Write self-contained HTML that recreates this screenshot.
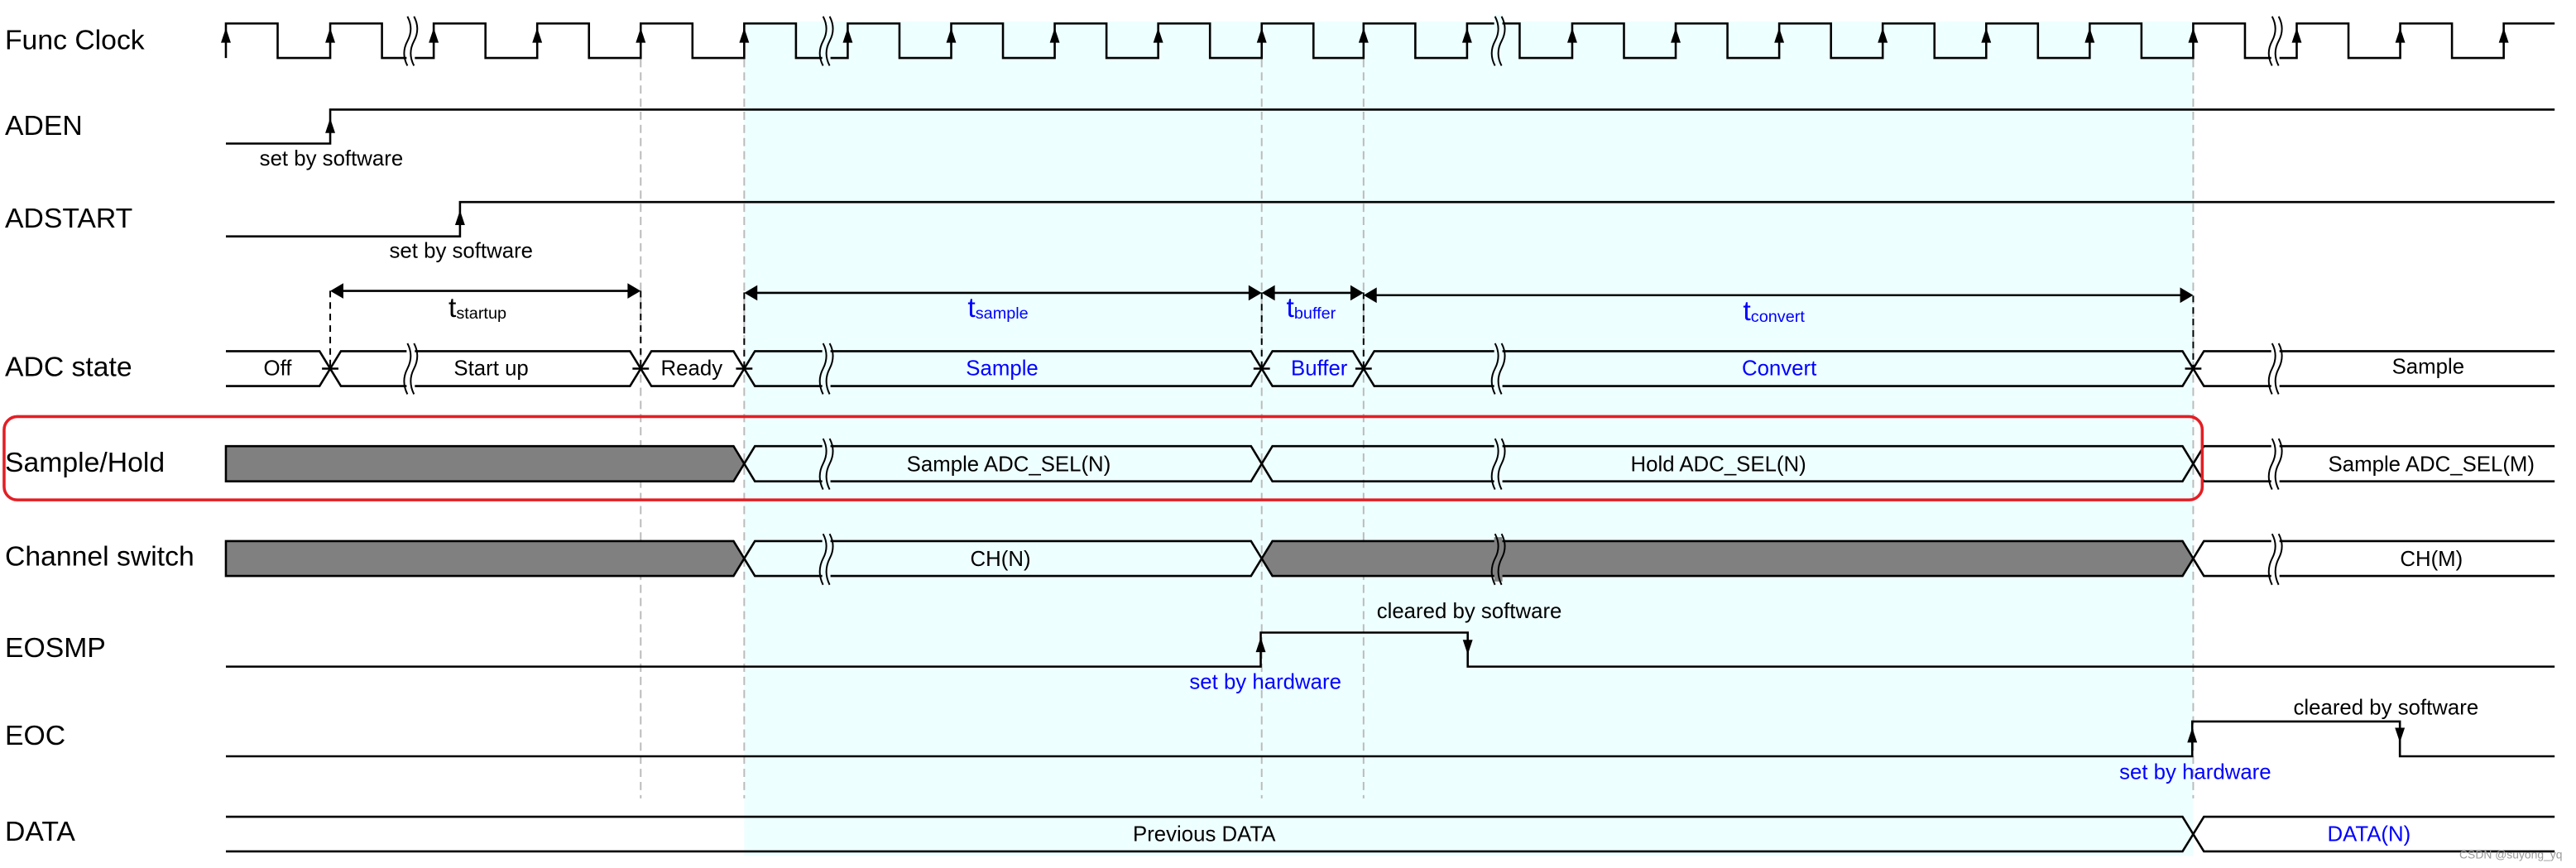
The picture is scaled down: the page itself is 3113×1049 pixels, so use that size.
<!DOCTYPE html>
<html><head><meta charset="utf-8"><style>
html,body{margin:0;padding:0;background:#fff;}
svg{display:block;}
text{font-family:"Liberation Sans",Arial,sans-serif;}
</style></head><body>
<svg width="3113" height="1049" viewBox="0 0 1568 528.4" preserveAspectRatio="none" xmlns="http://www.w3.org/2000/svg">
<rect x="453" y="13" width="882" height="508" fill="#eeffff"/>
<g stroke="#bbb" stroke-width="1" stroke-dasharray="5,3">
<line x1="390" y1="36" x2="390" y2="486"/><line x1="453" y1="36" x2="453" y2="486"/>
<line x1="768" y1="36" x2="768" y2="486"/><line x1="830" y1="36" x2="830" y2="486"/>
<line x1="1335" y1="36" x2="1335" y2="486"/>
</g>
<g fill="none" stroke="#000" stroke-width="1.3">
<path d="M137.5,35.3 V14.3 H169 V35.3 H201 V14.3 H232.5 V35.3 H264 V14.3 H295.5 V35.3 H327 V14.3 H358.5 V35.3 H390 V14.3 H421.5 V35.3 H453 V14.3 H484.5 V35.3 H516 V14.3 H547.5 V35.3 H579 V14.3 H610.5 V35.3 H642 V14.3 H673.5 V35.3 H705 V14.3 H736.5 V35.3 H768 V14.3 H799.5 V35.3 H830 V14.3 H861.5 V35.3 H893 V14.3 H925 V35.3 H957 V14.3 H988.5 V35.3 H1020 V14.3 H1051.5 V35.3 H1083 V14.3 H1114.5 V35.3 H1146 V14.3 H1177.5 V35.3 H1209 V14.3 H1240.5 V35.3 H1272 V14.3 H1303.5 V35.3 H1335 V14.3 H1366.5 V35.3 H1398 V14.3 H1429.5 V35.3 H1461 V14.3 H1492.5 V35.3 H1524 V14.3 H1555"/>
<path d="M137.5,87.4 H201 V66.7 H1555"/>
<path d="M137.5,143.9 H280 V123 H1555"/>
<path d="M137.5,405.8 H767.4 V385.1 H893.4 V405.8 H1555"/>
<path d="M137.5,460.4 H1334.4 V439.2 H1460.8 V460.4 H1555"/>
</g>
<g fill="#000">
<path d="M134.5,26 L137.5,17 L140.5,26Z M198,26 L201,17 L204,26Z M261,26 L264,17 L267,26Z M324,26 L327,17 L330,26Z M387,26 L390,17 L393,26Z M450,26 L453,17 L456,26Z M513,26 L516,17 L519,26Z M576,26 L579,17 L582,26Z M639,26 L642,17 L645,26Z M702,26 L705,17 L708,26Z M765,26 L768,17 L771,26Z M827,26 L830,17 L833,26Z M890,26 L893,17 L896,26Z M954,26 L957,17 L960,26Z M1017,26 L1020,17 L1023,26Z M1080,26 L1083,17 L1086,26Z M1143,26 L1146,17 L1149,26Z M1206,26 L1209,17 L1212,26Z M1269,26 L1272,17 L1275,26Z M1332,26 L1335,17 L1338,26Z M1395,26 L1398,17 L1401,26Z M1458,26 L1461,17 L1464,26Z M1521,26 L1524,17 L1527,26Z"/>
<path d="M198,81 L201,72 L204,81Z M277,137 L280,128 L283,137Z M764.4,397 L767.4,388 L770.4,397Z M890.4,389.5 L893.4,398.5 L896.4,389.5Z M1331.4,452 L1334.4,443 L1337.4,452Z M1457.8,443 L1460.8,452 L1463.8,443Z"/>
</g>
<g stroke="#000" stroke-width="1.3" fill="none">
<line x1="203" y1="177.1" x2="388" y2="177.1"/>
<line x1="455" y1="178.3" x2="766" y2="178.3"/>
<line x1="770" y1="178.3" x2="828" y2="178.3"/>
<line x1="832" y1="179.7" x2="1333" y2="179.7"/>
</g>
<g fill="#000">
<path d="M201,177.1 L209,172.4 L209,181.8Z M390,177.1 L382,172.4 L382,181.8Z"/>
<path d="M453,178.3 L461,173.6 L461,183Z M768,178.3 L760,173.6 L760,183Z M768,178.3 L776,173.6 L776,183Z M830,178.3 L822,173.6 L822,183Z M830,179.7 L838,175 L838,184.4Z M1335,179.7 L1327,175 L1327,184.4Z"/>
</g>
<g stroke="#000" stroke-width="1" stroke-dasharray="4,3">
<line x1="201" y1="177" x2="201" y2="224"/><line x1="390" y1="177" x2="390" y2="224"/>
<line x1="453" y1="178" x2="453" y2="224"/><line x1="768" y1="178" x2="768" y2="224"/>
<line x1="830" y1="178" x2="830" y2="224"/><line x1="1335" y1="180" x2="1335" y2="224"/>
</g>
<g stroke="#000" stroke-width="1.3">
<path fill="none" d="M137.5,213.8 H194.5 L201,224.4 L194.5,235 H137.5"/>
<path fill="none" d="M201,224.4 L207.5,213.8 H383.5 L390,224.4 L383.5,235 H207.5 Z"/>
<path fill="none" d="M390,224.4 L396.5,213.8 H446.5 L453,224.4 L446.5,235 H396.5 Z"/>
<path fill="none" d="M453,224.4 L459.5,213.8 H761.5 L768,224.4 L761.5,235 H459.5 Z"/>
<path fill="none" d="M768,224.4 L774.5,213.8 H823.5 L830,224.4 L823.5,235 H774.5 Z"/>
<path fill="none" d="M830,224.4 L836.5,213.8 H1328.5 L1335,224.4 L1328.5,235 H836.5 Z"/>
<path fill="none" d="M1555,213.8 H1341.5 L1335,224.4 L1341.5,235 H1555"/>
<path d="M196,224.4 H206 M385,224.4 H395 M448,224.4 H458 M763,224.4 H773 M825,224.4 H835 M1330,224.4 H1340" fill="none"/>

<path fill="#808080" d="M137.5,271.6 H446.5 L453,282.3 L446.5,293 H137.5 Z"/>
<path fill="none" d="M453,282.3 L459.5,271.6 H761.5 L768,282.3 L761.5,293 H459.5 Z"/>
<path fill="none" d="M768,282.3 L774.5,271.6 H1328.5 L1335,282.3 L1328.5,293 H774.5 Z"/>
<path fill="none" d="M1555,271.6 H1341.5 L1335,282.3 L1341.5,293 H1555"/>

<path fill="#808080" d="M137.5,329.4 H446.5 L453,340 L446.5,350.6 H137.5 Z"/>
<path fill="none" d="M453,340 L459.5,329.4 H761.5 L768,340 L761.5,350.6 H459.5 Z"/>
<path fill="#808080" d="M768,340 L774.5,329.4 H1328.5 L1335,340 L1328.5,350.6 H774.5 Z"/>
<path fill="none" d="M1555,329.4 H1341.5 L1335,340 L1341.5,350.6 H1555"/>

<path fill="none" d="M137.5,497.2 H1328.5 L1335,507.8 L1328.5,518.3 H137.5"/>
<path fill="none" d="M1555,497.2 H1341.5 L1335,507.8 L1341.5,518.3 H1555"/>
</g>
<g>
<rect x="247.5" y="30" width="5" height="10" fill="#fff"/>
<rect x="500.5" y="30" width="5" height="10" fill="#eeffff"/>
<rect x="909.5" y="9" width="5" height="10" fill="#eeffff"/>
<rect x="1382.5" y="30" width="5" height="10" fill="#fff"/>
<rect x="247.5" y="211" width="5" height="27" fill="#fff"/>
<rect x="500.5" y="211" width="5" height="27" fill="#eeffff"/>
<rect x="909.5" y="211" width="5" height="27" fill="#eeffff"/>
<rect x="1382.5" y="211" width="5" height="27" fill="#fff"/>
<rect x="500.5" y="269" width="5" height="27" fill="#eeffff"/>
<rect x="909.5" y="269" width="5" height="27" fill="#eeffff"/>
<rect x="1382.5" y="269" width="5" height="27" fill="#fff"/>
<rect x="500.5" y="327" width="5" height="27" fill="#eeffff"/>
<rect x="909.5" y="327" width="5" height="27" fill="#808080"/>
<rect x="1382.5" y="327" width="5" height="27" fill="#fff"/>
</g>
<g fill="none" stroke="#000" stroke-width="1">
<path d="M248,10 Q252,17.5 248,25 Q244,32.5 248,40 M252,10 Q256,17.5 252,25 Q248,32.5 252,40"/>
<path d="M501,10 Q505,17.5 501,25 Q497,32.5 501,40 M505,10 Q509,17.5 505,25 Q501,32.5 505,40"/>
<path d="M910,10 Q914,17.5 910,25 Q906,32.5 910,40 M914,10 Q918,17.5 914,25 Q910,32.5 914,40"/>
<path d="M1383,10 Q1387,17.5 1383,25 Q1379,32.5 1383,40 M1387,10 Q1391,17.5 1387,25 Q1383,32.5 1387,40"/>
<path d="M248,209 Q252,216.5 248,224.4 Q244,232 248,240 M252,209 Q256,216.5 252,224.4 Q248,232 252,240"/>
<path d="M501,209 Q505,216.5 501,224.4 Q497,232 501,240 M505,209 Q509,216.5 505,224.4 Q501,232 505,240"/>
<path d="M910,209 Q914,216.5 910,224.4 Q906,232 910,240 M914,209 Q918,216.5 914,224.4 Q910,232 914,240"/>
<path d="M1383,209 Q1387,216.5 1383,224.4 Q1379,232 1383,240 M1387,209 Q1391,216.5 1387,224.4 Q1383,232 1387,240"/>
<path d="M501,267 Q505,274.5 501,282.3 Q497,290 501,298 M505,267 Q509,274.5 505,282.3 Q501,290 505,298"/>
<path d="M910,267 Q914,274.5 910,282.3 Q906,290 910,298 M914,267 Q918,274.5 914,282.3 Q910,290 914,298"/>
<path d="M1383,267 Q1387,274.5 1383,282.3 Q1379,290 1383,298 M1387,267 Q1391,274.5 1387,282.3 Q1383,290 1387,298"/>
<path d="M501,325 Q505,332.5 501,340 Q497,348 501,356 M505,325 Q509,332.5 505,340 Q501,348 505,356"/>
<path d="M910,325 Q914,332.5 910,340 Q906,348 910,356 M914,325 Q918,332.5 914,340 Q910,348 914,356"/>
<path d="M1383,325 Q1387,332.5 1383,340 Q1379,348 1383,356 M1387,325 Q1391,332.5 1387,340 Q1383,348 1387,356"/>
</g>
<rect x="2.5" y="253.6" width="1338" height="50.7" rx="8" fill="none" stroke="#e31e24" stroke-width="1.8"/>
<g font-size="17" fill="#000">
<text x="3" y="30">Func Clock</text>
<text x="3" y="82">ADEN</text>
<text x="3" y="138.6">ADSTART</text>
<text x="3" y="229">ADC state</text>
<text x="3" y="287">Sample/Hold</text>
<text x="3" y="344.4">Channel switch</text>
<text x="3" y="400">EOSMP</text>
<text x="3" y="453.3">EOC</text>
<text x="3" y="511.7">DATA</text>
</g>
<g font-size="13" fill="#000">
<text x="158" y="100.7">set by software</text>
<text x="237" y="157">set by software</text>
<text x="169" y="228.5" text-anchor="middle">Off</text>
<text x="299" y="228.5" text-anchor="middle">Start up</text>
<text x="421" y="228.5" text-anchor="middle">Ready</text>
<text x="1478" y="227.5" text-anchor="middle">Sample</text>
<text x="614" y="286.8" text-anchor="middle">Sample ADC_SEL(N)</text>
<text x="1046" y="286.8" text-anchor="middle">Hold ADC_SEL(N)</text>
<text x="1480" y="286.8" text-anchor="middle">Sample ADC_SEL(M)</text>
<text x="609" y="344.5" text-anchor="middle">CH(N)</text>
<text x="1480" y="344.5" text-anchor="middle">CH(M)</text>
<text x="838" y="376.3">cleared by software</text>
<text x="1396" y="435">cleared by software</text>
<text x="733" y="512" text-anchor="middle">Previous DATA</text>
</g>
<g font-size="13" fill="#0000ff">
<text x="610" y="228.5" text-anchor="middle">Sample</text>
<text x="803" y="228.5" text-anchor="middle">Buffer</text>
<text x="1083" y="228.5" text-anchor="middle">Convert</text>
<text x="724" y="419.4">set by hardware</text>
<text x="1290" y="474.3">set by hardware</text>
<text x="1442" y="512" text-anchor="middle">DATA(N)</text>
</g>
<g font-size="17">
<text x="273" y="193" fill="#000">t<tspan font-size="10" dy="1">startup</tspan></text>
<text x="589" y="193" fill="#0000ff">t<tspan font-size="10" dy="1">sample</tspan></text>
<text x="783" y="193" fill="#0000ff">t<tspan font-size="10" dy="1">buffer</tspan></text>
<text x="1061" y="195" fill="#0000ff">t<tspan font-size="10" dy="1">convert</tspan></text>
</g>
<text x="1497" y="522.5" font-size="7" fill="#999">CSDN @suyong_yq</text>
</svg>
</body></html>
